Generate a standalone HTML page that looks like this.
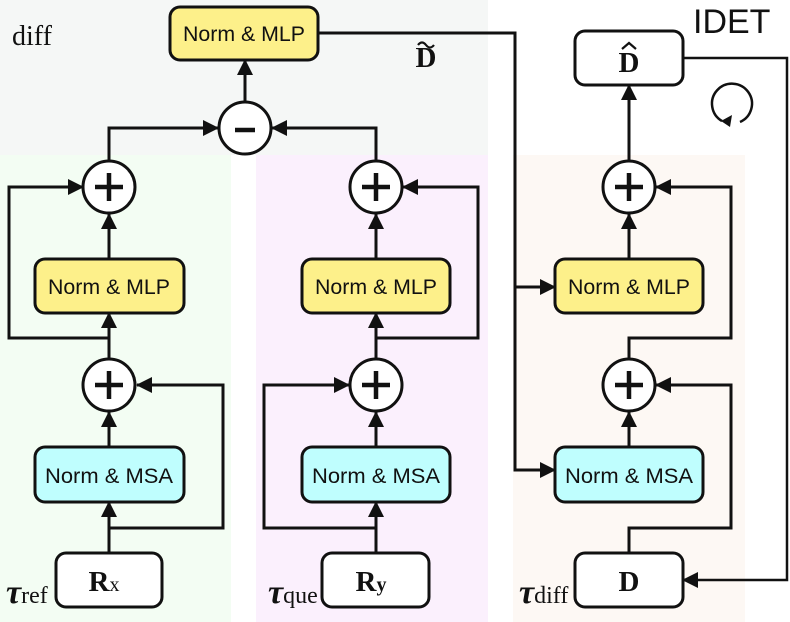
<!DOCTYPE html>
<html><head><meta charset="utf-8"><style>
html,body{margin:0;padding:0;background:#fff;}
svg{display:block}
.s{font-family:"Liberation Sans",sans-serif;fill:#111;}
.r{font-family:"Liberation Serif",serif;fill:#111;}
</style></head><body>
<svg width="790" height="622" viewBox="0 0 790 622" xmlns="http://www.w3.org/2000/svg">
<defs>
<marker id="b" markerWidth="16" markerHeight="16" refX="15" refY="8" orient="auto" markerUnits="userSpaceOnUse" viewBox="0 0 16 16">
<path d="M0,0 L16,8 L0,16 z" fill="#111"/>
</marker>
</defs>
<rect x="0" y="0" width="488" height="155" fill="#f5f7f6"/>
<rect x="0" y="155" width="231" height="467" fill="#f3fdf3"/>
<rect x="256" y="155" width="232" height="467" fill="#fbf0fd"/>
<rect x="513" y="155" width="232" height="467" fill="#fdf8f4"/>

<g stroke="#111" stroke-width="3" fill="none">
<path d="M109,553 V502" marker-end="url(#b)"/>
<path d="M109,528 H223 V385 H137" marker-end="url(#b)"/>
<path d="M109,447 V412" marker-end="url(#b)"/>
<path d="M109,358 V313" marker-end="url(#b)"/>
<path d="M109,338 H9 V187 H83" marker-end="url(#b)"/>
<path d="M109,259 V214" marker-end="url(#b)"/>
<path d="M109,160 V128 H218" marker-end="url(#b)"/>
<path d="M376,553 V502" marker-end="url(#b)"/>
<path d="M376,528 H264 V385 H349" marker-end="url(#b)"/>
<path d="M376,447 V412" marker-end="url(#b)"/>
<path d="M376,358 V313" marker-end="url(#b)"/>
<path d="M376,338 H478 V187 H403" marker-end="url(#b)"/>
<path d="M376,259 V214" marker-end="url(#b)"/>
<path d="M376,160 V128 H272" marker-end="url(#b)"/>
<path d="M245,101 V60" marker-end="url(#b)"/>
<path d="M318,33 H515 V470 H555" marker-end="url(#b)"/>
<path d="M515,287 H555" marker-end="url(#b)"/>
<path d="M629,553 V528 H731 V385 H656" marker-end="url(#b)"/>
<path d="M629,447 V412" marker-end="url(#b)"/>
<path d="M629,358 V338 H731 V187 H656" marker-end="url(#b)"/>
<path d="M629,259 V214" marker-end="url(#b)"/>
<path d="M629,160 V85" marker-end="url(#b)"/>
<path d="M683,58 H787 V580 H683" marker-end="url(#b)" stroke-width="2.5"/>
</g>

<g stroke="#111" stroke-width="3" fill="#fff">
<circle cx="109" cy="187" r="26"/><circle cx="109" cy="385" r="26"/>
<circle cx="376" cy="187" r="26"/><circle cx="376" cy="385" r="26"/>
<circle cx="629" cy="187" r="26"/><circle cx="629" cy="385" r="26"/>
<circle cx="245" cy="128" r="26"/>
</g>
<g stroke="#111" stroke-width="4.5">
<path d="M95,187 H123 M109,173 V201"/><path d="M95,385 H123 M109,371 V399"/>
<path d="M362,187 H390 M376,173 V201"/><path d="M362,385 H390 M376,371 V399"/>
<path d="M615,187 H643 M629,173 V201"/><path d="M615,385 H643 M629,371 V399"/>
<path d="M235,130 H255"/>
</g>

<g stroke="#111" stroke-width="3">
<rect x="170" y="7" width="148" height="53" rx="10" fill="#fdf08a"/>
<rect x="35" y="259" width="149" height="54" rx="10" fill="#fdf08a"/>
<rect x="302" y="259" width="148" height="54" rx="10" fill="#fdf08a"/>
<rect x="555" y="259" width="148" height="54" rx="10" fill="#fdf08a"/>
<rect x="35" y="447" width="149" height="55" rx="10" fill="#bffefe"/>
<rect x="302" y="447" width="148" height="55" rx="10" fill="#bffefe"/>
<rect x="555" y="447" width="148" height="55" rx="10" fill="#bffefe"/>
<rect x="56" y="553" width="106" height="54" rx="10" fill="#fff"/>
<rect x="322" y="553" width="107" height="54" rx="10" fill="#fff"/>
<rect x="575" y="553" width="108" height="54" rx="10" fill="#fff"/>
<rect x="575" y="31" width="108" height="54" rx="10" fill="#fff"/>
</g>
<g class="s" text-anchor="middle" style="font-size:21px">
<text x="244" y="41" textLength="122" lengthAdjust="spacingAndGlyphs">Norm &amp; MLP</text>
<text x="109" y="294" textLength="122" lengthAdjust="spacingAndGlyphs">Norm &amp; MLP</text>
<text x="376" y="294" textLength="122" lengthAdjust="spacingAndGlyphs">Norm &amp; MLP</text>
<text x="629" y="294" textLength="122" lengthAdjust="spacingAndGlyphs">Norm &amp; MLP</text>
<text x="109" y="483" textLength="128" lengthAdjust="spacingAndGlyphs">Norm &amp; MSA</text>
<text x="376" y="483" textLength="128" lengthAdjust="spacingAndGlyphs">Norm &amp; MSA</text>
<text x="629" y="483" textLength="128" lengthAdjust="spacingAndGlyphs">Norm &amp; MSA</text>
</g>
<g class="r" font-weight="bold" text-anchor="middle" style="font-size:29px">
<text x="104" y="591">R<tspan font-weight="normal" style="font-size:20px">x</tspan></text>
<text x="371" y="591">R<tspan style="font-size:20px">y</tspan></text>
<text x="629" y="591">D</text>
<text x="629" y="72">D</text>
<text x="426" y="67">D</text>
</g>
<path d="M622,49 L629,43 L636,49" fill="none" stroke="#111" stroke-width="2.2"/>
<path d="M418,45 q4,-5 8,0 t8,0" fill="none" stroke="#111" stroke-width="2.2"/>
<text class="r" x="12" y="45" style="font-size:28px">diff</text>
<text class="s" x="693" y="33" style="font-size:34px">IDET</text>
<text class="r" x="6" y="603" font-style="italic" font-weight="bold" style="font-size:34px">τ<tspan font-style="normal" font-weight="normal" style="font-size:24px">ref</tspan></text>
<text class="r" x="268" y="603" font-style="italic" font-weight="bold" style="font-size:34px">τ<tspan font-style="normal" font-weight="normal" style="font-size:24px">que</tspan></text>
<text class="r" x="519" y="603" font-style="italic" font-weight="bold" style="font-size:34px">τ<tspan font-style="normal" font-weight="normal" style="font-size:24px">diff</tspan></text>
<path d="M722,121 A20,20 0 1 1 740,122" fill="none" stroke="#111" stroke-width="2.5"/>
<path d="M721,121 L732,115 L730,127 z" fill="#111"/>
</svg>
</body></html>
